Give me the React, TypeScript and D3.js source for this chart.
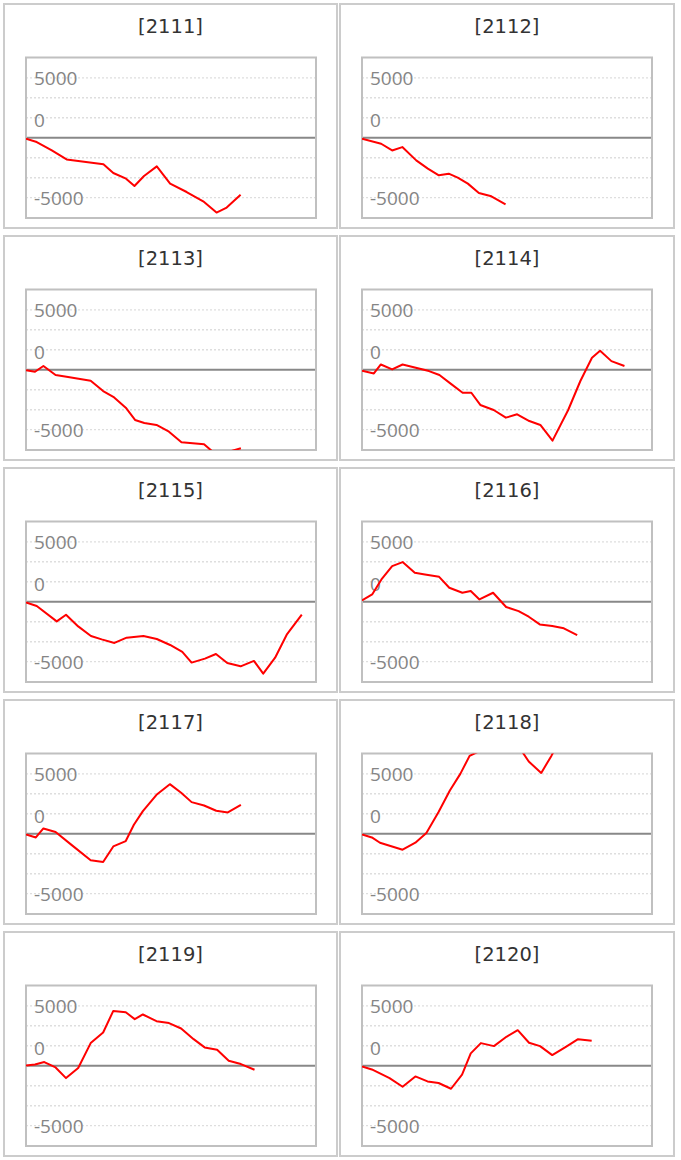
import React from 'react';
import * as d3 from 'd3';

// panel codes, in reading order (two per row)
const codes = ['2111', '2112', '2113', '2114', '2115', '2116', '2117', '2118', '2119', '2120'];

// x = position along the period (0..100), y = cumulative value
const x2111 = [0, 3.7, 8.9, 14.0, 26.7, 30.1, 34.5, 37.4, 40.7, 45.1, 49.7, 55.4, 61.1, 65.7, 69.2, 74.0];
const y2111 = [-80, -360, -1060, -1810, -2220, -2940, -3420, -4030, -3190, -2390, -3830, -4530, -5310, -6250, -5830, -4750];

const x2112 = [0, 6.6, 10.4, 13.9, 18.7, 22.7, 26.5, 29.9, 33.0, 36.5, 40.3, 44.6, 49.5];
const y2112 = [-80, -500, -1060, -780, -1890, -2580, -3140, -3000, -3330, -3830, -4610, -4890, -5560];

const x2113 = [0, 3.1, 6.0, 10.2, 14.5, 22.3, 26.6, 30.4, 34.4, 37.6, 40.8, 45.0, 49.3, 53.6, 61.4, 64.9, 69.9, 74.1];
const y2113 = [-30, -170, 310, -440, -610, -920, -1780, -2310, -3170, -4190, -4440, -4610, -5170, -6060, -6220, -6950, -6850, -6550];

const x2114 = [0, 4.1, 6.5, 10.4, 14.0, 23.1, 26.7, 30.9, 34.7, 37.7, 40.8, 45.4, 49.6, 53.5, 57.7, 61.5, 65.7, 71.1, 75.3, 79.3, 82.1, 86.0, 90.5];
const y2114 = [-80, -310, 440, 30, 440, -110, -440, -1220, -1920, -1920, -2940, -3360, -4000, -3720, -4280, -4610, -5920, -3360, -940, 1000, 1580, 720, 310];

const x2115 = [0, 3.7, 10.6, 13.8, 18.0, 22.4, 26.1, 30.5, 34.7, 40.5, 45.1, 49.7, 53.9, 57.1, 61.7, 65.5, 69.4, 74.0, 78.6, 81.8, 85.9, 89.9, 95.1];
const y2115 = [-60, -360, -1640, -1080, -2060, -2860, -3140, -3440, -3000, -2860, -3110, -3610, -4190, -5080, -4750, -4360, -5110, -5390, -4940, -6000, -4670, -2750, -1080];

const x2116 = [0, 3.5, 6.7, 10.4, 14.0, 18.2, 21.7, 26.6, 30.1, 34.6, 37.5, 40.5, 45.2, 49.7, 54.0, 57.5, 61.3, 65.6, 69.6, 74.2];
const y2116 = [110, 610, 1860, 2970, 3310, 2420, 2280, 2080, 1170, 750, 890, 190, 750, -440, -780, -1250, -1890, -2030, -2220, -2780];

const x2117 = [0, 3.4, 6.0, 10.2, 15.9, 22.3, 26.6, 30.1, 34.4, 37.2, 40.3, 45.0, 49.6, 53.5, 57.1, 61.4, 65.6, 69.6, 74.1];
const y2117 = [-60, -310, 440, 140, -970, -2220, -2360, -1060, -610, 750, 1890, 3250, 4140, 3420, 2640, 2360, 1920, 1780, 2420];

const x2118 = [0, 3.4, 6.2, 14.0, 18.4, 22.2, 26.4, 30.3, 33.9, 37.1, 40.5, 45.0, 50.0, 54.0, 57.5, 61.8, 65.3, 67.5];
const y2118 = [-60, -310, -750, -1330, -750, 60, 1810, 3610, 5000, 6500, 6900, 8000, 8200, 7300, 6030, 5080, 6500, 7500];

const x2119 = [0, 3.1, 6.3, 10.2, 13.8, 18.0, 22.3, 26.6, 30.1, 34.4, 37.5, 40.3, 45.0, 49.3, 53.5, 57.8, 61.6, 65.9, 69.9, 74.1, 78.8];
const y2119 = [30, 110, 310, -140, -1030, -190, 1890, 2780, 4580, 4470, 3890, 4280, 3720, 3560, 3110, 2220, 1530, 1330, 420, 140, -330];

const x2120 = [0, 3.4, 9.5, 14.0, 18.4, 22.6, 26.4, 30.7, 34.5, 37.5, 41.0, 45.5, 49.8, 53.7, 57.6, 61.4, 65.6, 70.3, 74.5, 79.2];
const y2120 = [-60, -310, -1030, -1750, -890, -1310, -1440, -1920, -750, 1030, 1890, 1640, 2420, 2970, 1920, 1640, 890, 1580, 2220, 2080];

const seriesX = [x2111, x2112, x2113, x2114, x2115, x2116, x2117, x2118, x2119, x2120];
const seriesY = [y2111, y2112, y2113, y2114, y2115, y2116, y2117, y2118, y2119, y2120];

const yDomain = [-6700, 6700];
const gridStep = 5000 / 3;
const gridValues = [-3, -2, -1, 1, 2, 3].map(k => k * gridStep);
const yTickValues = [5000, 0, -5000];
const yTickLabels = ['5000', '0', '-5000'];

const PANEL_H = 226;
const ROW_PITCH = 232;

interface PanelProps {
    idx: number;
    left: number;
    top: number;
    width: number;
}

const Panel: React.FC<PanelProps> = ({ idx, left, top, width }) => {
    const bx0 = left + 23;
    const bx1 = left + 313;
    const by0 = top + 54.5;
    const by1 = top + 215;

    const x = d3.scaleLinear().domain([0, 100]).range([bx0, bx1]);
    const y = d3.scaleLinear().domain(yDomain).range([by1, by0]);

    const xs = seriesX[idx];
    const ys = seriesY[idx];
    const pts = xs.map((v, i) => [v, ys[i]] as [number, number]);
    const path = d3.line<[number, number]>()
        .x(d => x(d[0]))
        .y(d => y(d[1]))(pts) || '';

    const clipId = `clip-${codes[idx]}`;

    return (
        <g>
            <rect x={left + 1} y={top + 1} width={width - 2} height={PANEL_H - 2}
                fill="#fff" stroke="#cccccc" strokeWidth={2} />
            <text x={left + width / 2} y={top + 30} textAnchor="middle"
                fontFamily="'DejaVu Sans', Verdana, sans-serif" fontSize={19.5} fill="#333">
                [{codes[idx]}]
            </text>
            <defs>
                <clipPath id={clipId}>
                    <rect x={bx0} y={by0} width={bx1 - bx0} height={by1 - by0} />
                </clipPath>
            </defs>
            {gridValues.map(v => (
                <line key={v} x1={bx0} x2={bx1} y1={y(v)} y2={y(v)}
                    stroke="#dedede" strokeWidth={1.4} strokeDasharray="2,2" />
            ))}
            {/* the 0 label is lifted one grid step so it clears the axis line */}
            {yTickValues.map((v, i) => (
                <text key={v} x={bx0 + 8} y={v === 0 ? y(gridStep) + 2 : y(v)} dy="0.38em"
                    fontFamily="'Open Sans', sans-serif" fontSize={19} fill="#858585">
                    {yTickLabels[i]}
                </text>
            ))}
            <line x1={bx0} x2={bx1} y1={y(0)} y2={y(0)} stroke="#888" strokeWidth={2} />
            <rect x={bx0} y={by0} width={bx1 - bx0} height={by1 - by0}
                fill="none" stroke="#c0c0c0" strokeWidth={2} />
            <path d={path} fill="none" stroke="#ff0000" strokeWidth={2}
                strokeLinejoin="round" clipPath={`url(#${clipId})`} />
        </g>
    );
};

export default function App() {
    return (
        <svg width={681} height={1160}
            style={{ position: 'absolute', left: 0, top: 0, background: '#fff' }}>
            {codes.map((c, i) => {
                const col = i % 2;
                const row = Math.floor(i / 2);
                const left = col === 0 ? 3 : 339;
                const width = col === 0 ? 335 : 336;
                return <Panel key={c} idx={i} left={left} top={3 + row * ROW_PITCH} width={width} />;
            })}
        </svg>
    );
}
